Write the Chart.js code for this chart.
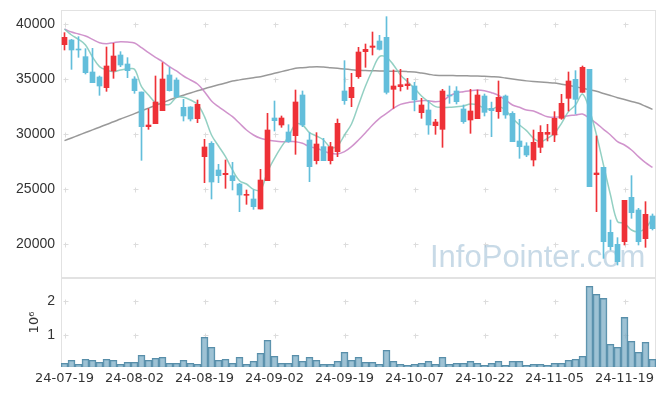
<!DOCTYPE html>
<html><head><meta charset="utf-8">
<script src="https://cdn.jsdelivr.net/npm/chart.js@4.4.1/dist/chart.umd.min.js"></script>
<style>
html,body{margin:0;padding:0;background:#fff;}
#wrap{position:relative;width:665px;height:396px;overflow:hidden;background:#fff;}
.pane{position:absolute;left:0;width:665px;}
</style></head><body>
<div id="wrap">
<div class="pane" style="top:0;height:279px"><canvas id="c1" width="665" height="279"></canvas></div>
<div class="pane" style="top:278px;height:118px"><canvas id="c2" width="665" height="118"></canvas></div>
</div>
<script>
const dates = [
'24-07-19','24-07-22','24-07-23','24-07-24','24-07-25','24-07-26','24-07-29','24-07-30','24-07-31','24-08-01',
'24-08-02','24-08-05','24-08-06','24-08-07','24-08-08','24-08-09','24-08-12','24-08-13','24-08-14','24-08-16',
'24-08-19','24-08-20','24-08-21','24-08-22','24-08-23','24-08-26','24-08-27','24-08-28','24-08-29','24-08-30',
'24-09-02','24-09-03','24-09-04','24-09-05','24-09-06','24-09-09','24-09-10','24-09-11','24-09-12','24-09-13',
'24-09-19','24-09-20','24-09-23','24-09-24','24-09-25','24-09-26','24-09-27','24-09-30','24-10-02','24-10-04',
'24-10-07','24-10-08','24-10-10','24-10-11','24-10-14','24-10-15','24-10-16','24-10-17','24-10-18','24-10-21',
'24-10-22','24-10-23','24-10-24','24-10-25','24-10-28','24-10-29','24-10-30','24-10-31','24-11-01','24-11-04',
'24-11-05','24-11-06','24-11-07','24-11-08','24-11-11','24-11-12','24-11-13','24-11-14','24-11-15','24-11-18',
'24-11-19','24-11-20','24-11-21','24-11-22','24-11-25'];
const xTickLabels = ['24-07-19','24-08-02','24-08-19','24-09-02','24-09-19','24-10-07','24-10-22','24-11-05','24-11-19'];
const priceTicks = [20000,25000,30000,35000,40000];
const volTicks = [1,2];

const openP = [
38122,38546,37728,37031,35637,35182,34213,35728,37182,36364,
35000,33819,30667,30940,32122,35364,34910,32425,32455,31395,
27940,29152,26728,26303,26213,25455,24425,24092,23182,25758,
31455,30819,30182,29849,33546,29455,27576,28849,27576,28395,
33910,33303,35213,37485,37879,38455,38788,34061,34303,34394,
34364,31940,32182,30758,30425,33546,33910,32273,31273,31394,
33455,32334,32031,33455,31879,29364,28910,27637,28788,29970,
29910,31425,33243,34970,33789,35879,26303,26970,21061,19970,
20213,24243,23091,20485,22546];
const highP = [
39213,38600,38849,37758,37788,35273,37909,38243,37485,36940,
35212,33819,32303,35273,36485,36061,35100,33152,32485,33091,
29516,29303,27243,27637,27425,25516,24910,24910,26788,31879,
33000,31637,30849,34000,33910,30122,30122,29607,29243,31364,
36667,35515,37879,38182,39273,38970,40667,35819,35879,35061,
34700,33243,33031,31334,34061,34364,34303,32637,34061,34001,
33637,32900,34819,33546,32031,31334,29213,30364,30758,30880,
32031,33607,35637,35758,36182,35879,29819,26970,22182,20576,
23970,26213,23243,23849,22728];
const lowP = [
37637,35879,36970,35455,34667,33516,33879,35061,36121,35122,
33697,27607,30425,30940,32122,33900,33300,31182,31182,31031,
25576,24092,25576,25061,24910,22940,23607,23152,23182,25758,
30273,30607,29243,28152,30667,25667,27273,27576,27273,27940,
32697,32485,35061,36061,37182,37637,33637,32334,33910,34061,
32100,31425,29970,29970,28788,32788,32728,30970,30061,31394,
31637,29755,31425,31425,29303,27788,27940,27091,28304,29364,
29304,31334,32091,31819,33789,25213,22940,18697,19455,18092,
19910,22334,19910,19698,21273];
const closeP = [
38788,37637,37637,35576,34667,34364,36182,37091,36273,35758,
33940,30667,30818,32909,35000,33940,33394,31637,31364,32698,
28819,25637,26213,26425,25758,24455,24485,23394,25818,30364,
31213,31455,29303,32910,30819,27030,29091,27576,28849,30970,
33031,34243,37455,37697,38000,37697,33788,34364,34485,34546,
33100,32637,30819,31091,33910,33455,32940,31122,32091,33546,
31970,32122,33334,31728,29303,28849,28091,29243,30152,30152,
31425,32788,34819,33152,36061,25213,26455,20213,19758,18394,
23970,22849,20213,22698,21395];

const ma5 = [
39546,39000,38606,38091,37000,36122,35819,35667,35819,35910,
35879,34304,33546,32849,32698,32698,33334,33334,33091,32698,
31577,29910,28910,27940,26728,25758,25455,24970,24910,26576,
27788,28849,29758,30880,30819,30122,29819,29455,28789,28910,
29910,30910,32637,34364,35819,37031,36970,36273,35364,34758,
34152,33455,32940,32485,32425,32425,32485,32546,32728,32637,
32334,32243,32485,32182,31425,30819,30304,29607,29304,29607,
30061,30970,32031,32637,33637,32182,29910,27182,24455,22031,
21880,21273,21122,21425,22334];
const ma20 = [
39546,39273,39091,38910,38606,38304,38213,38304,38394,38364,
38273,37849,37394,36970,36576,36122,35728,35273,34910,34546,
33849,33001,32485,32031,31577,30970,30364,29910,29607,29455,
29364,29304,29304,29304,29152,28849,28698,28455,28243,28182,
28395,28849,29455,30122,30819,31425,31879,32334,32698,32849,
32940,33031,33031,32940,33031,33455,33758,33849,33940,34001,
33940,33758,33516,33091,32637,32425,32182,32091,31819,31577,
31516,31577,31667,31728,31819,31425,30970,30425,29910,29304,
29001,28546,27940,27395,26970];
const ma60 = [
29394,29640,29890,30130,30379,30620,30870,31110,31364,31600,
31850,32100,32349,32600,32850,33090,33334,33530,33730,33930,
34122,34300,34470,34640,34819,34920,35020,35120,35213,35360,
35516,35670,35820,35970,36030,36080,36122,36090,36030,35970,
35910,35850,35788,35770,35750,35728,35720,35710,35697,35670,
35637,35540,35440,35334,35324,35314,35304,35294,35284,35273,
35243,35213,35182,35090,35000,34910,34830,34770,34720,34680,
34637,34530,34420,34304,34160,34020,33880,33690,33500,33304,
33130,32960,32788,32520,32243];
const volume = [
0.176,0.265,0.147,0.294,0.265,0.206,0.294,0.265,0.147,0.206,
0.206,0.412,0.265,0.324,0.353,0.176,0.176,0.265,0.176,0.147,
0.941,0.647,0.265,0.294,0.176,0.353,0.147,0.235,0.471,0.853,
0.382,0.176,0.176,0.412,0.235,0.353,0.265,0.147,0.147,0.235,
0.500,0.265,0.353,0.206,0.206,0.147,0.559,0.235,0.147,0.118,
0.147,0.176,0.235,0.147,0.353,0.147,0.176,0.176,0.235,0.176,
0.118,0.176,0.235,0.118,0.235,0.235,0.118,0.147,0.147,0.118,
0.176,0.176,0.265,0.294,0.382,2.441,2.206,2.088,0.735,0.647,
1.529,0.824,0.500,0.794,0.294];

const COL_UP = '#ee3137', COL_DN = '#63bedb';
const candleColors = dates.map((d, i) => closeP[i] >= openP[i] ? COL_UP : COL_DN);
const FRAME = '#e2e2e2', CROSS = '#dcdcdc';

function framePlugin(yId, yVals) {
  return {
    id: 'frame',
    beforeDatasetsDraw(chart) {
      const {ctx, chartArea: a} = chart;
      const xs = chart.scales.x, ys = chart.scales[yId];
      ctx.save();
      ctx.strokeStyle = FRAME; ctx.lineWidth = 1;
      ctx.strokeRect(Math.round(a.left) + 0.5, Math.round(a.top) + 0.5,
        Math.round(a.right - a.left) - 1, Math.round(a.bottom - a.top) - 1);
      ctx.strokeStyle = CROSS;
      xTickLabels.forEach(lbl => {
        const px = Math.round(xs.getPixelForValue(dates.indexOf(lbl))) + 0.5;
        yVals.forEach(v => {
          const py = Math.round(ys.getPixelForValue(v)) + 0.5;
          ctx.beginPath();
          ctx.moveTo(px - 2, py); ctx.lineTo(px + 3, py);
          ctx.moveTo(px, py - 2); ctx.lineTo(px, py + 3);
          ctx.stroke();
        });
      });
      ctx.restore();
    }
  };
}
const watermark = {
  id: 'wm',
  beforeDatasetsDraw(chart) {
    const ctx = chart.ctx;
    ctx.save();
    ctx.font = '31px "Liberation Sans", Arial, sans-serif';
    ctx.fillStyle = 'rgba(145,182,208,0.5)';
    ctx.textBaseline = 'alphabetic';
    ctx.fillText('InfoPointer.com', 430, 267);
    ctx.restore();
  }
};

const lineDs = (data, color, order) => ({
  type: 'line', data, borderColor: color, borderWidth: 1.5, pointRadius: 0,
  tension: 0.35, fill: false, order
});
const noPad = s => { s.paddingTop = 0; s.paddingBottom = 0; };

new Chart(document.getElementById('c1'), {
  type: 'bar',
  data: {
    labels: dates,
    datasets: [
      lineDs(ma60, 'rgba(135,135,135,0.85)', 5),
      lineDs(ma20, 'rgba(200,128,195,0.85)', 4),
      lineDs(ma5, 'rgba(128,200,185,0.85)', 3),
      { data: dates.map((d, i) => [lowP[i], highP[i]]), backgroundColor: candleColors,
        barThickness: 1, grouped: false, order: 2 },
      { data: dates.map((d, i) => [openP[i], closeP[i]]), backgroundColor: candleColors,
        barThickness: 5, grouped: false, minBarLength: 1, order: 1 }
    ]
  },
  options: {
    responsive: false, animation: false, devicePixelRatio: 1,
    layout: { padding: { top: 10, right: 9, left: 0, bottom: 0 } },
    plugins: { legend: { display: false }, tooltip: { enabled: false } },
    scales: {
      x: { offset: true, grid: { display: false, drawTicks: false }, border: { display: false },
           ticks: { display: false }, afterFit(s) { s.height = 1; s.paddingLeft = 0; s.paddingRight = 0; } },
      y: { min: 16909, max: 41273,
           grid: { display: false, drawTicks: false }, border: { display: false },
           afterBuildTicks(s) { s.ticks = priceTicks.map(v => ({ value: v })); },
           afterFit(s) { s.width = 61; noPad(s); },
           ticks: { padding: 6, color: '#333', font: { family: '"Liberation Sans", Arial', size: 14 },
                    callback(v) { return String(v); } } }
    }
  },
  plugins: [framePlugin('y', priceTicks), watermark]
});

new Chart(document.getElementById('c2'), {
  type: 'bar',
  data: {
    labels: dates,
    datasets: [{
      data: volume, backgroundColor: 'rgba(120,170,195,0.72)', borderColor: 'rgba(70,130,160,0.9)',
      borderWidth: 1, categoryPercentage: 1, barPercentage: 1
    }]
  },
  options: {
    responsive: false, animation: false, devicePixelRatio: 1,
    layout: { padding: { top: 0, right: 9, left: 0, bottom: 0 } },
    plugins: { legend: { display: false }, tooltip: { enabled: false } },
    scales: {
      x: { offset: true, grid: { display: false, drawTicks: false }, border: { display: false },
           ticks: { autoSkip: false, maxRotation: 0, minRotation: 0, padding: 4, color: '#333',
                    font: { family: '"DejaVu Sans"', size: 13 },
                    callback(v, i) { return xTickLabels.includes(dates[i]) ? dates[i] : ''; } },
           afterFit(s) { s.height = 29; } },
      y: { min: 0.067, max: 2.685,
           grid: { display: false, drawTicks: false }, border: { display: false },
           afterBuildTicks(s) { s.ticks = volTicks.map(v => ({ value: v })); },
           afterFit(s) { s.width = 61; noPad(s); },
           title: { display: true, text: '10⁶', color: '#333', padding: { top: 27, bottom: 0 },
                    font: { family: '"DejaVu Sans"', size: 13 } },
           ticks: { padding: 6, color: '#333', font: { family: '"Liberation Sans", Arial', size: 14 },
                    callback(v) { return String(v); } } }
    }
  },
  plugins: [framePlugin('y', volTicks)]
});
</script>
</body></html>
